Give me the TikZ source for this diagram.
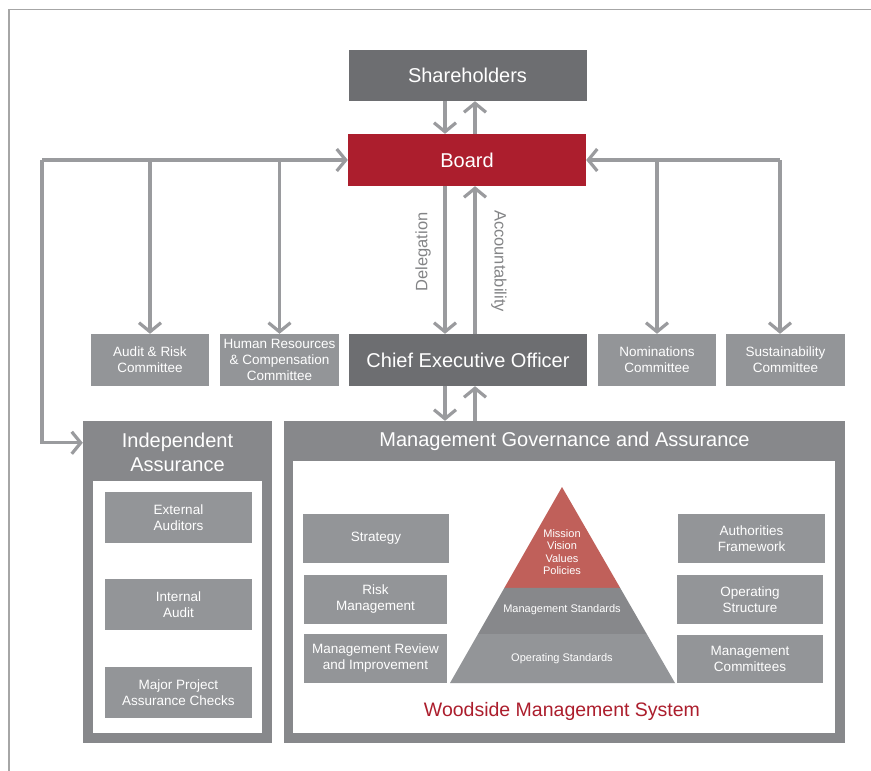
\documentclass[tikz,border=0pt]{standalone}
\usepackage{fontspec}
\setmainfont{Liberation Sans}
\usetikzlibrary{arrows.meta, calc}

\definecolor{wsred}{HTML}{AC1E2D}
\definecolor{darkgrey}{HTML}{6D6E71}
\definecolor{boxgrey}{HTML}{939598}
\definecolor{framegrey}{HTML}{87888B}
\definecolor{arrowgrey}{HTML}{9A9B9E}
\definecolor{pyrred}{HTML}{C0605A}

\begin{document}
\begin{tikzpicture}[x=1pt, y=-1pt,
    blk/.style={rectangle, inner sep=0pt, text=white, align=center},
    big/.style={font=\fontsize{20}{24}\selectfont},
    small/.style={font=\fontsize{13.5}{16}\selectfont},
    tiny/.style={font=\fontsize{11}{12.5}\selectfont},
    arr/.style={arrowgrey, line width=3.2pt, -{Straight Barb[length=9pt, width=22pt]}}]
    \useasboundingbox (0,0) rectangle (871,771);
    % page rule
    \draw[black!35, line width=1.2pt] (9,771) -- (9,9.5) -- (871,9.5);

    \coordinate (dn) at (445, 0);
    \coordinate (up) at (475, 0);
    \coordinate (lb) at (42, 160);
    \coordinate (rb) at (780, 160);

    % top of the structure
    \node[blk, big, fill=darkgrey, minimum width=238, minimum height=51] (sh) at (467.5, 75.5) {Shareholders};
    \node[blk, big, fill=wsred, minimum width=238, minimum height=52] (board) at (467, 160) {Board};
    \node[blk, big, fill=darkgrey, minimum width=238, minimum height=52] (ceo) at (468, 360) {Chief Executive Officer};

    % board committees
    \node[blk, small, fill=boxgrey, minimum width=118, minimum height=52] (arc) at (150, 360) {Audit \& Risk\\Committee};
    \node[blk, small, fill=boxgrey, minimum width=119, minimum height=52] (hrc) at (279.5, 360) {Human Resources\\\& Compensation\\Committee};
    \node[blk, small, fill=boxgrey, minimum width=118, minimum height=52] (nom) at (657, 360) {Nominations\\Committee};
    \node[blk, small, fill=boxgrey, minimum width=119, minimum height=52] (sus) at (785.5, 360) {Sustainability\\Committee};

    % independent assurance
    \node[blk, fill=framegrey, minimum width=189, minimum height=322] (ia) at (177.5, 582) {};
    \node[blk, fill=white, minimum width=169, minimum height=252] (iaw) at (177.5, 607) {};
    \node[blk, big] (iat) at (177.5, 452) {Independent\\Assurance};
    \node[blk, small, fill=boxgrey, minimum width=147, minimum height=51] (ea) at (178.5, 517.5) {External\\Auditors};
    \node[blk, small, fill=boxgrey, minimum width=147, minimum height=51] (inta) at (178.5, 604.5) {Internal\\Audit};
    \node[blk, small, fill=boxgrey, minimum width=147, minimum height=51] (mpa) at (178.5, 692.5) {Major Project\\Assurance Checks};

    % management governance and assurance
    \node[blk, fill=framegrey, minimum width=561, minimum height=322] (mga) at (564.5, 582) {};
    \node[blk, fill=white, minimum width=542, minimum height=272] (mgaw) at (564, 597) {};
    \node[blk, big] (mgat) at (564.5, 441) {Management Governance and Assurance};
    \node[blk, small, fill=boxgrey, minimum width=146, minimum height=49] (strat) at (376, 538.5) {Strategy};
    \node[blk, small, fill=boxgrey, minimum width=143, minimum height=49] (risk) at (375.5, 599.5) {Risk\\Management};
    \node[blk, small, fill=boxgrey, minimum width=143, minimum height=49] (mri) at (375.5, 658.5) {Management Review\\and Improvement};
    \node[blk, small, fill=boxgrey, minimum width=147, minimum height=49] (auth) at (751.5, 538.5) {Authorities\\Framework};
    \node[blk, small, fill=boxgrey, minimum width=146, minimum height=49] (opst) at (750, 599.5) {Operating\\Structure};
    \node[blk, small, fill=boxgrey, minimum width=146, minimum height=48] (mcom) at (750, 659) {Management\\Committees};

    % pyramid
    \coordinate (P) at (562, 487);
    \coordinate (L) at (450, 683);
    \coordinate (R) at (675, 683);
    \fill[pyrred] (P) -- ($(P)!0.515!(R)$) -- ($(P)!0.515!(L)$) -- cycle;
    \fill[framegrey] ($(P)!0.515!(L)$) -- ($(P)!0.515!(R)$) -- ($(P)!0.75!(R)$) -- ($(P)!0.75!(L)$) -- cycle;
    \fill[boxgrey] ($(P)!0.75!(L)$) -- ($(P)!0.75!(R)$) -- (R) -- (L) -- cycle;
    \node[blk, tiny] (mvv) at (562, 552) {Mission\\Vision\\Values\\Policies};
    \node[blk, tiny] (mstd) at (562, 610) {Management Standards};
    \node[blk, tiny] (ostd) at (562, 659) {Operating Standards};
    \node[blk, text=wsred, font=\fontsize{19.5}{23}\selectfont] (wms) at (562, 711) {Woodside Management System};

    % arrows
    \draw[arr] (sh.south -| dn) -- (board.north -| dn);
    \draw[arr] (board.north -| up) -- (sh.south -| up);
    \draw[arr] (board.south -| dn) -- (ceo.north -| dn);
    \draw[arr] (ceo.north -| up) -- (board.south -| up);
    \draw[arr] (ceo.south -| dn) -- (mga.north -| dn);
    \draw[arr] (mga.north -| up) -- (ceo.south -| up);
    \node[text=darkgrey!85, font=\fontsize{16.5}{19}\selectfont, rotate=90] (dlg) at (423, 252) {Delegation};
    \node[text=darkgrey!85, font=\fontsize{16.5}{19}\selectfont, rotate=-90] (acc) at (499, 261) {Accountability};

    \draw[arr] (lb) -- (board.west);
    \draw[arr] (lb) |- ([yshift=-22pt]ia.north west);
    \draw[arr] (arc.north |- lb) -- (arc.north);
    \draw[arr] (hrc.north |- lb) -- (hrc.north);
    \draw[arr] (rb) -- (board.east);
    \draw[arr] (rb) -- (rb |- sus.north);
    \draw[arr] (nom.north |- rb) -- (nom.north);
\end{tikzpicture}
\end{document}
